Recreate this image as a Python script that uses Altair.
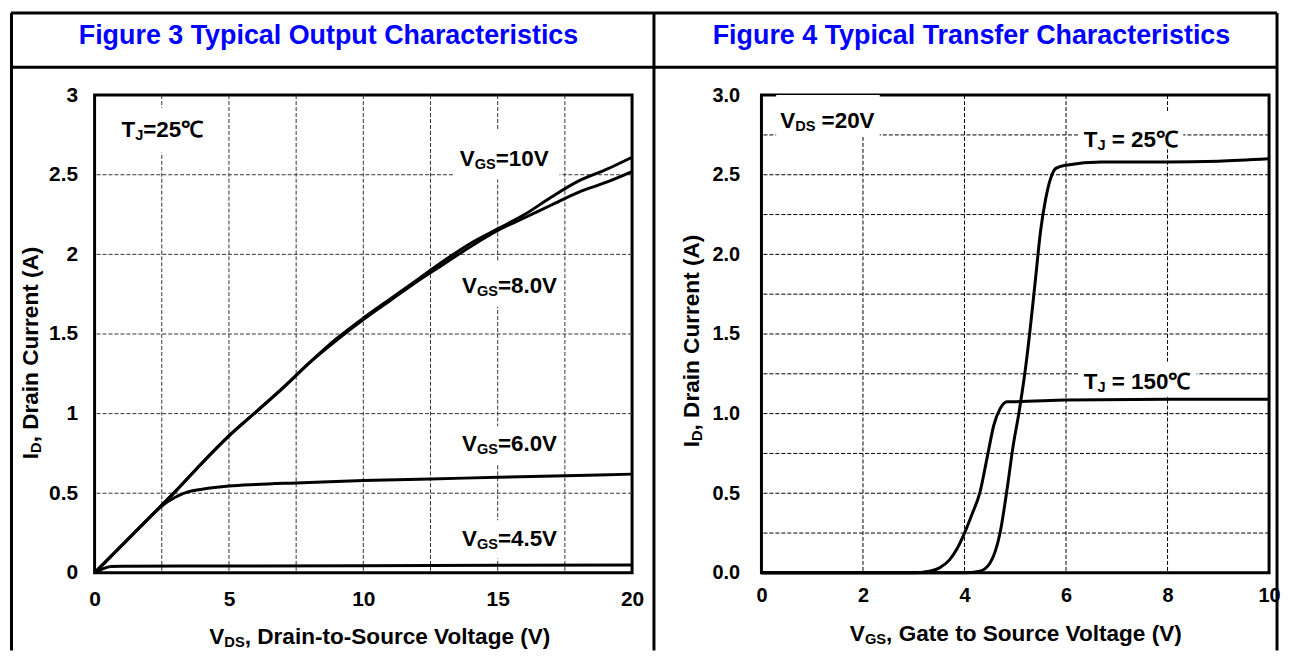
import altair as alt
import pandas as pd

FONT = "Liberation Sans"
BLUE = "#0000FF"

# ---------------- Figure 3 data (Output characteristics) ----------------
vds_10 = [0, 1, 2, 3, 4, 5, 6, 7, 8, 9, 10, 11, 12, 13, 14, 15, 16, 17, 18, 19, 20]
id_10 = [0, 0.17, 0.34, 0.51, 0.69, 0.86, 1.01, 1.16, 1.32, 1.47, 1.60, 1.72, 1.84, 1.96, 2.07, 2.16, 2.25, 2.36, 2.46, 2.53, 2.61]
vds_8 = [0, 1, 2, 3, 4, 5, 6, 7, 8, 9, 10, 11, 12, 13, 14, 15, 16, 17, 18, 19, 20]
id_8 = [0, 0.17, 0.34, 0.51, 0.69, 0.86, 1.01, 1.16, 1.32, 1.46, 1.59, 1.71, 1.83, 1.94, 2.05, 2.15, 2.23, 2.31, 2.39, 2.45, 2.52]
vds_6 = [0, 1, 2, 2.5, 3, 3.5, 4, 5, 6, 7.5, 10, 12.5, 15, 17.5, 20]
id_6 = [0, 0.17, 0.34, 0.42, 0.475, 0.51, 0.525, 0.545, 0.555, 0.565, 0.58, 0.59, 0.60, 0.61, 0.62]
vds_45 = [0, 0.3, 0.6, 1, 5, 10, 15, 20]
id_45 = [0, 0.025, 0.04, 0.042, 0.043, 0.045, 0.048, 0.05]

# ---------------- Figure 4 data (Transfer characteristics) ----------------
vgs_25 = [0, 3, 4, 4.3, 4.5, 4.7, 4.85, 4.95, 5.08, 5.2, 5.3, 5.4, 5.5, 5.6, 5.7, 5.8, 6.0, 6.7, 8, 9, 10]
id_25 = [0, 0, 0, 0.01, 0.06, 0.25, 0.55, 0.78, 1.02, 1.28, 1.55, 1.85, 2.15, 2.35, 2.48, 2.54, 2.56, 2.58, 2.58, 2.585, 2.6]
vgs_150 = [0, 3.0, 3.3, 3.5, 3.7, 3.85, 4.0, 4.15, 4.3, 4.45, 4.58, 4.7, 4.84, 5, 6, 8, 10]
id_150 = [0, 0, 0.01, 0.03, 0.08, 0.15, 0.25, 0.37, 0.5, 0.73, 0.93, 1.03, 1.075, 1.075, 1.085, 1.09, 1.09]

# tick / grid values
f3_x_ticks = [0, 2.5, 5, 7.5, 10, 12.5, 15, 17.5, 20]
f3_y_ticks = [0, 0.5, 1, 1.5, 2, 2.5, 3]
f4_x_ticks = [0, 2, 4, 6, 8, 10]
f4_y_ticks = [0, 0.25, 0.5, 0.75, 1, 1.25, 1.5, 1.75, 2, 2.25, 2.5, 2.75, 3]

# annotations: (pieces, x, y) ; piece = (text, is_subscript)
f3_labels = [
    ([("T", 0), ("J", 1), ("=25℃", 0)], 1.0, 2.74),
    ([("V", 0), ("GS", 1), ("=10V", 0)], 13.59, 2.556),
    ([("V", 0), ("GS", 1), ("=8.0V", 0)], 13.67, 1.76),
    ([("V", 0), ("GS", 1), ("=6.0V", 0)], 13.67, 0.7625),
    ([("V", 0), ("GS", 1), ("=4.5V", 0)], 13.67, 0.169),
]
f3_boxes = [(0.8, 4.4, 2.64, 2.92), (13.4, 17.3, 2.47, 2.78), (13.3, 17.3, 1.67, 1.95),
            (13.3, 17.3, 0.68, 0.92), (13.3, 17.3, 0.09, 0.33)]
f4_labels = [
    ([("V", 0), ("DS", 1), (" =20V", 0)], 0.37, 2.794),
    ([("T", 0), ("J", 1), (" = 25℃", 0)], 6.35, 2.675),
    ([("T", 0), ("J", 1), (" = 150℃", 0)], 6.35, 1.157),
]
f4_boxes = [(0.29, 2.33, 2.74, 3.0), (6.25, 8.31, 2.66, 2.9), (6.25, 8.57, 1.106, 1.325)]

# ---------------- helpers ----------------
AW = {' ': 278, '!': 333, '(': 333, ')': 333, ',': 278, '-': 333, '.': 278, '=': 584, '℃': 1000}
for d in "0123456789":
    AW[d] = 556
AW.update({'A': 722, 'B': 722, 'C': 722, 'D': 722, 'E': 667, 'F': 611, 'G': 778, 'H': 722, 'I': 278,
           'J': 556, 'K': 722, 'L': 611, 'M': 833, 'N': 722, 'O': 778, 'P': 667, 'Q': 778, 'R': 722,
           'S': 667, 'T': 611, 'U': 722, 'V': 667, 'W': 944, 'X': 667, 'Y': 667, 'Z': 611,
           'a': 556, 'b': 611, 'c': 556, 'd': 611, 'e': 556, 'f': 333, 'g': 611, 'h': 611, 'i': 278,
           'j': 278, 'k': 556, 'l': 278, 'm': 889, 'n': 611, 'o': 611, 'p': 611, 'q': 611, 'r': 389,
           's': 556, 't': 333, 'u': 611, 'v': 556, 'w': 778, 'x': 556, 'y': 556, 'z': 500})

ONE = pd.DataFrame({"k": [0]})


def tw(s, size):
    return sum(AW.get(c, 600) for c in s) * size / 1000.0


def rich(pieces, x, y, size, center=False, angle=0, data_pos=False, color="black"):
    sub = size * 0.65
    widths = [tw(t, sub if s else size) for t, s in pieces]
    off = -sum(widths) / 2 if center else 0
    out = []
    for (t, s), w in zip(pieces, widths):
        fs = sub if s else size
        stripped = t.lstrip(" ")
        lead = tw(t[: len(t) - len(stripped)], fs)
        if data_pos:
            enc = dict(x=alt.datum(x), y=alt.datum(y))
        else:
            enc = dict(x=alt.value(x), y=alt.value(y))
        out.append(
            alt.Chart(ONE).mark_text(
                text=stripped, align="left", baseline="alphabetic", dx=off + lead, dy=(3 if s else 0),
                fontSize=fs, font=FONT, fontWeight="bold", color=color, angle=angle
            ).encode(**enc)
        )
        off += w
    return out


def hrule(x1, x2, y, w=3):
    return alt.Chart(ONE).mark_rule(color="black", strokeWidth=w).encode(
        x=alt.value(x1), x2=alt.value(x2), y=alt.value(y))


def vrule(x, y1, y2, w=3):
    return alt.Chart(ONE).mark_rule(color="black", strokeWidth=w).encode(
        x=alt.value(x), y=alt.value(y1), y2=alt.value(y2))


def boxes(bx):
    return [alt.Chart(ONE).mark_rect(color="white").encode(
        x=alt.datum(a), x2=alt.datum(b), y=alt.datum(c), y2=alt.datum(d)) for a, b, c, d in bx]


def grid(xvals, yvals, color):
    gx = pd.DataFrame({"v": xvals[1:-1]})
    gy = pd.DataFrame({"i": yvals[1:-1]})
    return [
        alt.Chart(gx).mark_rule(color=color, strokeWidth=1, strokeDash=[4, 2]).encode(x="v:Q"),
        alt.Chart(gy).mark_rule(color=color, strokeWidth=1, strokeDash=[4, 2]).encode(y="i:Q"),
    ]


def axis(values, pad, size, expr=None, fmt=None):
    kw = dict(values=values, grid=False, ticks=False, tickSize=0, domain=False, labelPadding=pad,
              labelFont=FONT, labelFontSize=size, labelFontWeight="bold", labelColor="black",
              labelFlush=False, labelOverlap=False, title=None)
    if expr:
        kw["labelExpr"] = expr
    if fmt:
        kw["format"] = fmt
    return alt.Axis(**kw)


def series_df(pairs):
    rows = []
    for name, xs, ys in pairs:
        for a, b in zip(xs, ys):
            rows.append({"s": name, "v": a, "i": b})
    return pd.DataFrame(rows)


W1, W2, H = 540, 510, 480
TOP = -82.5          # top border, relative to plot top
BOT = 558            # bottom of vertical borders
HDR = -28            # header divider

# ---------------- Figure 3 ----------------
df3 = series_df([("10V", vds_10, id_10), ("8V", vds_8, id_8), ("6V", vds_6, id_6), ("4.5V", vds_45, id_45)])
lines3 = alt.Chart(df3).mark_line(color="black", strokeWidth=3, interpolate="monotone").encode(
    x=alt.X("v:Q", scale=alt.Scale(domain=[0, 20], nice=False),
            axis=axis(f3_x_ticks, 16, 21, expr="datum.value % 5 === 0 ? datum.label : ''", fmt="~g")),
    y=alt.Y("i:Q", scale=alt.Scale(domain=[0, 3], nice=False),
            axis=axis(f3_y_ticks, 17, 21, fmt=".1~f")),
    detail="s:N",
)
layers3 = grid(f3_x_ticks, f3_y_ticks, "#333333") + boxes(f3_boxes) + [lines3]
for pieces, x, y in f3_labels:
    layers3 += rich(pieces, x, y, 22.5, data_pos=True)
layers3 += rich([("V", 0), ("DS", 1), (", Drain-to-Source Voltage (V)", 0)], 287.5, 551, 22.7, center=True)
layers3 += rich([("I", 0), ("D", 1), (", Drain Current (A)", 0)], -57, 259, 22.7, center=True, angle=270)
layers3.append(alt.Chart(ONE).mark_text(
    text="Figure 3 Typical Output Characteristics", align="center", baseline="alphabetic",
    font=FONT, fontWeight="bold", fontSize=27, color=BLUE).encode(x=alt.value(235), y=alt.value(-51)))
layers3 += [hrule(-84, 562, TOP), hrule(-84, 562, HDR), vrule(-83.5, TOP, BOT), vrule(562, TOP, BOT)]
fig3 = alt.layer(*layers3).properties(width=W1, height=H)

# ---------------- Figure 4 ----------------
df4 = series_df([("25C", vgs_25, id_25), ("150C", vgs_150, id_150)])
lines4 = alt.Chart(df4).mark_line(color="black", strokeWidth=3, interpolate="monotone").encode(
    x=alt.X("v:Q", scale=alt.Scale(domain=[0, 10], nice=False),
            axis=axis(f4_x_ticks, 13, 20, fmt="d")),
    y=alt.Y("i:Q", scale=alt.Scale(domain=[0, 3], nice=False),
            axis=axis(f4_y_ticks, 22, 20,
                      expr="(datum.value * 2) % 1 === 0 ? format(datum.value, '.1f') : ''")),
    detail="s:N",
)
layers4 = grid(f4_x_ticks, f4_y_ticks, "black") + boxes(f4_boxes) + [lines4]
for pieces, x, y in f4_labels:
    layers4 += rich(pieces, x, y, 22.5, data_pos=True)
layers4 += rich([("V", 0), ("GS", 1), (", Gate to Source Voltage (V)", 0)], 256.5, 548, 22.7, center=True)
layers4 += rich([("I", 0), ("D", 1), (", Drain Current (A)", 0)], -63, 247, 22.7, center=True, angle=270)
layers4.append(alt.Chart(ONE).mark_text(
    text="Figure 4 Typical Transfer Characteristics", align="center", baseline="alphabetic",
    font=FONT, fontWeight="bold", fontSize=27, color=BLUE).encode(x=alt.value(211), y=alt.value(-51)))
layers4 += [hrule(-108, 518, TOP), hrule(-108, 518, HDR), vrule(518, TOP, BOT)]
fig4 = alt.layer(*layers4).properties(width=W2, height=H)

chart = alt.hconcat(fig3, fig4, spacing=130, bounds="flush", padding=0).configure_view(
    stroke="black", strokeWidth=3
)

chart.save("out.html", embed_options={"renderer": "svg", "actions": False})
